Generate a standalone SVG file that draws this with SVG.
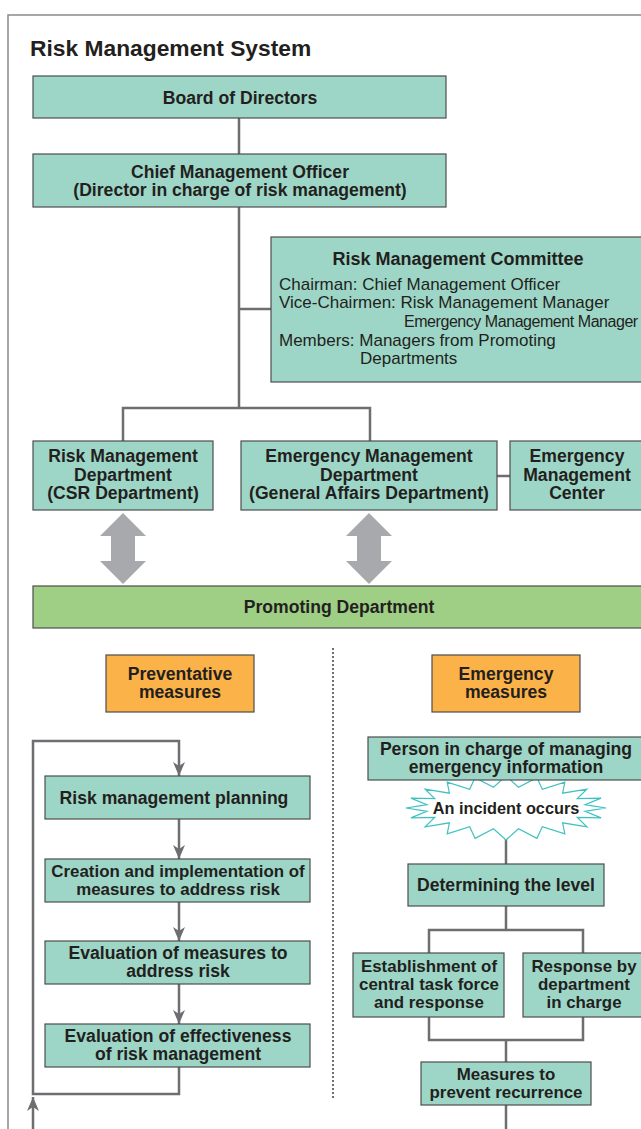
<svg xmlns="http://www.w3.org/2000/svg" width="641" height="1129" viewBox="0 0 641 1129">
<style>
text{font-family:"Liberation Sans",Arial,sans-serif;fill:#231f20;text-anchor:middle;font-size:17.6px;font-weight:bold}
.t{font-size:22.8px;text-anchor:start}
.r{font-weight:normal;font-size:17px;text-anchor:start}
.s{font-size:16.9px}
.box{fill:#9dd6c6;stroke:#4d4d4f;stroke-width:1.2}
.org{fill:#fbb248;stroke:#4d4d4f;stroke-width:1.2}
.grn{fill:#9ecf85;stroke:#4d4d4f;stroke-width:1.2}
.c{fill:none;stroke:#6d6e71;stroke-width:2.5}
.dbl{fill:#a7a9ac}
</style>
<defs>
<marker id="dn" markerUnits="userSpaceOnUse" markerWidth="12" markerHeight="14" refX="6" refY="14" orient="0" viewBox="0 0 12 14">
<path d="M0,0 L6,4 L12,0 L6,14 Z" fill="#6d6e71"/>
</marker>
<marker id="up" markerUnits="userSpaceOnUse" markerWidth="12" markerHeight="14" refX="6" refY="0" orient="0" viewBox="0 0 12 14">
<path d="M0,14 L6,10 L12,14 L6,0 Z" fill="#6d6e71"/>
</marker>
</defs>
<rect width="641" height="1129" fill="#fff"/>
<path d="M8,1129 V15 H641" fill="none" stroke="#8a8a8c" stroke-width="1.5"/>
<text class="t" x="30" y="56">Risk Management System</text>

<g id="connectors">
<path class="c" d="M239,118 V154"/>
<path class="c" d="M239,207 V408"/>
<path class="c" d="M239,309 H271"/>
<path class="c" d="M123,441 V408 H370 V441"/>
<path class="c" d="M497,476 H510"/>
<path class="dbl" d="M123,513 L146,536 H135 V561 H146 L123,584 L100,561 H111 V536 H100 Z"/>
<path class="dbl" d="M369,513 L392,536 H381 V561 H392 L369,584 L346,561 H357 V536 H346 Z"/>
<path d="M333,648 V1098" fill="none" stroke="#6d6e71" stroke-width="2" stroke-dasharray="2,2"/>
<path class="c" d="M179,1067 V1094 H33 V741 H179 V776" marker-end="url(#dn)"/>
<path class="c" d="M179,819 V859" marker-end="url(#dn)"/>
<path class="c" d="M179,902 V941" marker-end="url(#dn)"/>
<path class="c" d="M179,984 V1024" marker-end="url(#dn)"/>
<path class="c" d="M33,1129 V1097" marker-end="url(#up)"/>
<path class="c" d="M506,834 V864"/>
<path class="c" d="M506,906 V930 M429,953 V930 H583 V953"/>
<path class="c" d="M429,1017 V1040 H583 V1017 M506,1040 V1062"/>
<path class="c" d="M506,1105 V1129"/>
</g>

<g id="board"><rect class="box" x="33" y="76" width="413" height="42"/><text x="240" y="103.5">Board of Directors</text></g>
<g id="cmo"><rect class="box" x="33" y="154" width="413" height="53"/><text x="240" y="178">Chief Management Officer</text><text x="240" y="196">(Director in charge of risk management)</text></g>
<g id="committee"><rect class="box" x="271" y="237" width="375" height="145"/>
<text x="458" y="264.5" style="font-size:18px">Risk Management Committee</text>
<text class="r" x="279" y="290">Chairman: Chief Management Officer</text>
<text class="r" x="279" y="308">Vice-Chairmen: Risk Management Manager</text>
<text class="r" x="404" y="327" style="font-size:16px;letter-spacing:-0.45px">Emergency Management Manager</text>
<text class="r" x="279" y="346">Members: Managers from Promoting</text>
<text class="r" x="360" y="364">Departments</text></g>
<g id="rmd"><rect class="box" x="33" y="441" width="180" height="69"/><text x="123" y="462">Risk Management</text><text x="123" y="481">Department</text><text x="123" y="499">(CSR Department)</text></g>
<g id="emd"><rect class="box" x="241" y="441" width="256" height="69"/><text x="369" y="462">Emergency Management</text><text x="369" y="481">Department</text><text x="369" y="499">(General Affairs Department)</text></g>
<g id="emc"><rect class="box" x="510" y="441" width="136" height="69"/><text x="577" y="462">Emergency</text><text x="577" y="481">Management</text><text x="577" y="499">Center</text></g>
<g id="promoting"><rect class="grn" x="33" y="586" width="613" height="42"/><text x="339" y="613">Promoting Department</text></g>
<g id="preventative"><rect class="org" x="106" y="655" width="148" height="57"/><text x="180" y="680">Preventative</text><text x="180" y="698">measures</text></g>
<g id="emergency"><rect class="org" x="432" y="655" width="148" height="57"/><text x="506" y="680">Emergency</text><text x="506" y="698">measures</text></g>
<g id="planning"><rect class="box" x="45" y="776" width="265" height="43"/><text x="174" y="804">Risk management planning</text></g>
<g id="creation"><rect class="box" x="45" y="859" width="265" height="43"/><text class="s" x="178" y="877">Creation and implementation of</text><text class="s" x="178" y="895">measures to address risk</text></g>
<g id="evaluation"><rect class="box" x="45" y="941" width="265" height="43"/><text x="178" y="959">Evaluation of measures to</text><text x="178" y="977">address risk</text></g>
<g id="effectiveness"><rect class="box" x="45" y="1024" width="265" height="43"/><text x="178" y="1042">Evaluation of effectiveness</text><text x="178" y="1060">of risk management</text></g>
<g id="incident"><polygon points="606,808 585,811.3 601.1,817.9 577.3,817.5 586.9,826.8 562.6,822.8 564.8,833.9 542.3,826.7 536.9,838.4 518.5,828.7 506,840 493.5,828.7 475.1,838.4 469.7,826.7 447.2,833.9 449.4,822.8 425.1,826.8 434.7,817.5 410.9,817.9 427,811.3 406,808 427,804.7 410.9,798.1 434.7,798.5 425.1,789.2 449.4,793.2 447.2,782.1 469.7,789.3 475.1,777.6 493.5,787.3 506,776 518.5,787.3 536.9,777.6 542.3,789.3 564.8,782.1 562.6,793.2 586.9,789.2 577.3,798.5 601.1,798.1 585,804.7" fill="#fff" stroke="#3fc1c0" stroke-width="1.2"/><text x="506" y="814" style="font-size:16.3px">An incident occurs</text></g>
<g id="person"><rect class="box" x="368" y="737" width="278" height="43"/><text x="506" y="755">Person in charge of managing</text><text x="506" y="773">emergency information</text></g>
<g id="level"><rect class="box" x="408" y="864" width="196" height="42"/><text x="506" y="891">Determining the level</text></g>
<g id="taskforce"><rect class="box" x="353" y="953" width="151" height="64"/><text class="s" x="429" y="972">Establishment of</text><text class="s" x="429" y="990">central task force</text><text class="s" x="429" y="1008">and response</text></g>
<g id="dept"><rect class="box" x="523" y="953" width="123" height="64"/><text class="s" x="584" y="972">Response by</text><text class="s" x="584" y="990">department</text><text class="s" x="584" y="1008">in charge</text></g>
<g id="recurrence"><rect class="box" x="421" y="1062" width="170" height="43"/><text class="s" x="506" y="1080">Measures to</text><text class="s" x="506" y="1098">prevent recurrence</text></g>
</svg>
